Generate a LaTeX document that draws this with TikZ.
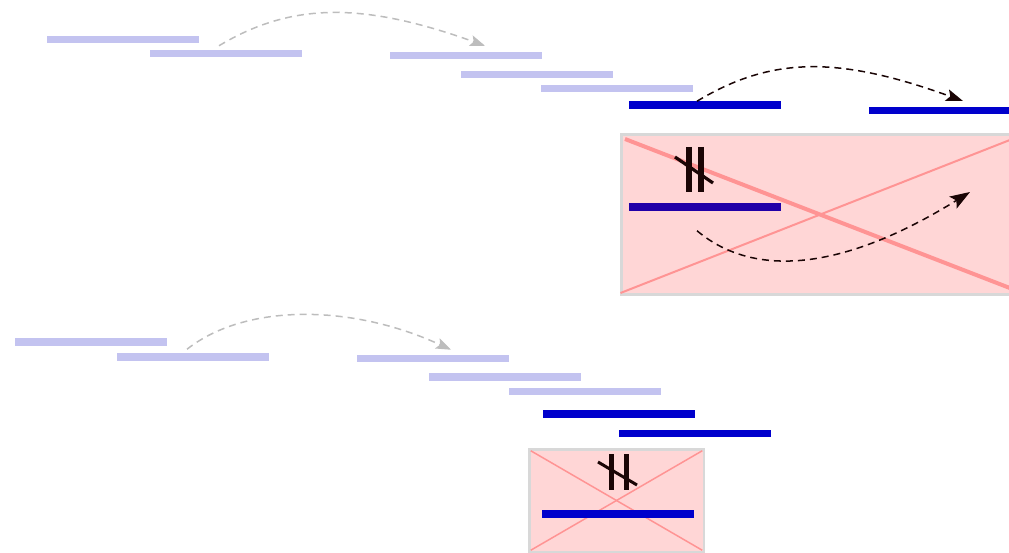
\documentclass[tikz,border=0pt]{standalone}
\usetikzlibrary{arrows.meta}

\definecolor{lightbar}{HTML}{C3C3F0}
\definecolor{darkbar}{HTML}{0000CC}
\definecolor{shadedbar}{HTML}{2000A8}
\definecolor{boxfill}{HTML}{FFD6D6}
\definecolor{boxborder}{HTML}{D8D8D8}
\definecolor{crossline}{HTML}{FF9494}
\definecolor{ghostarrow}{HTML}{BDBDBD}
\definecolor{inkdark}{HTML}{1A0505}

\tikzset{
  bar/.style={rectangle, inner sep=0pt, outer sep=0pt,
    minimum width=152pt, minimum height=7.5pt, fill=#1},
  crossbox/.style={rectangle, inner sep=0pt, outer sep=0pt,
    fill=boxfill, draw=boxborder},
  hop/.style={dash pattern=on 7pt off 5pt, line width=1.5pt},
  ghosthop/.style={hop, draw=ghostarrow,
    -{Stealth[length=15pt,width=11pt,inset=3pt]}},
  blackhop/.style={hop, draw=inkdark,
    -{Stealth[length=17pt,width=12pt,inset=3.5pt]}},
  nparbar/.style={draw=inkdark, line width=5.5pt},
  nparslash/.style={draw=inkdark, line width=3.2pt},
}

\begin{document}
\begin{tikzpicture}[x=1pt, y=-1pt]
\useasboundingbox (0,0) rectangle (1009,553);
\clip (0,0) rectangle (1009,553);

% ---------- upper sequence ----------
\node[bar=lightbar] (a1) at (123,39.5) {};
\node[bar=lightbar] (a2) at (226,53.5) {};
\node[bar=lightbar] (a3) at (466,55.5) {};
\node[bar=lightbar] (a4) at (537,74.5) {};
\node[bar=lightbar] (a5) at (617,88.5) {};
\node[bar=darkbar]  (b1) at (705,105) {};
\node[bar=darkbar]  (b2) at (945,110.5) {};

\draw[ghosthop] ([shift={(-7pt,4pt)}]a2.north)
  .. controls (292,2) and (363,2) .. ([shift={(19pt,6pt)}]a3.north);
\draw[blackhop] ([shift={(-8pt,0pt)}]b1.north)
  .. controls (772,56) and (839,56) .. ([shift={(18pt,5.75pt)}]b2.north);

% rejected move, crossed out
\node[crossbox, line width=3pt, minimum width=397pt, minimum height=160pt]
  (bigbox) at (820,214.5) {};
\draw[crossline, line width=4pt]
  ([shift={(3.5pt,-4.5pt)}]bigbox.north west) -- ([shift={(-3.5pt,4.5pt)}]bigbox.south east);
\draw[crossline, line width=2pt]
  ([shift={(-1pt,1.5pt)}]bigbox.south west) -- ([shift={(-1pt,-2.5pt)}]bigbox.north east);

\node[bar=shadedbar] (b3) at (705,207) {};
\draw[nparbar] (689,147) -- (689,192);
\draw[nparbar] (701,147) -- (701,192);
\draw[nparslash] (675,157) -- (713,183);

\coordinate (bigtarget) at (970,192);
\draw[blackhop, -{Stealth[length=20pt,width=14pt,inset=4pt]}]
  ([shift={(-8pt,-20pt)}]b3.south)
  .. controls (758,282) and (851,266) .. (bigtarget);

% ---------- lower sequence ----------
\node[bar=lightbar] (c1) at (90.5,342) {};
\node[bar=lightbar] (c2) at (193,357) {};
\node[bar=lightbar] (c3) at (433,358.5) {};
\node[bar=lightbar] (c4) at (505,377) {};
\node[bar=lightbar] (c5) at (585,391.5) {};
\node[bar=darkbar]  (d1) at (618.5,414) {};
\node[bar=darkbar]  (d2) at (695,433.5) {};

\draw[ghosthop] ([shift={(-6pt,4pt)}]c2.north)
  .. controls (245,303.5) and (351,303.5) .. ([shift={(18pt,5pt)}]c3.north);

\node[crossbox, line width=2.5pt, minimum width=174.5pt, minimum height=102.5pt]
  (smallbox) at (616.5,500.5) {};
\draw[crossline, line width=1.5pt]
  ([shift={(1.5pt,-1.5pt)}]smallbox.north west) -- ([shift={(-1.5pt,1.5pt)}]smallbox.south east);
\draw[crossline, line width=1.5pt]
  ([shift={(1.5pt,1.5pt)}]smallbox.south west) -- ([shift={(-1.5pt,-1.5pt)}]smallbox.north east);

\node[bar=darkbar, minimum height=8pt] (d3) at (618,513.5) {};
\draw[nparbar, line width=5pt] (611,454) -- (611,490);
\draw[nparbar, line width=5pt] (626,454) -- (626,490);
\draw[nparslash, line width=3pt] (598,462) -- (637,485);
\end{tikzpicture}
\end{document}
